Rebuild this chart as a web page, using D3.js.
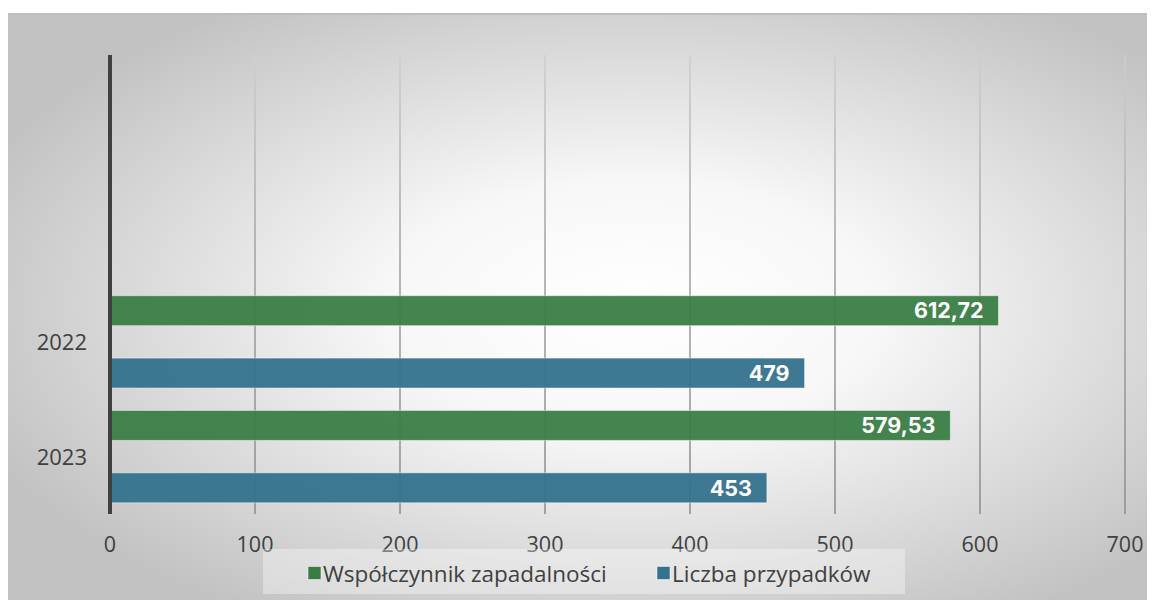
<!DOCTYPE html>
<html>
<head>
<meta charset="utf-8">
<script src="https://cdn.jsdelivr.net/npm/d3@7"></script>
<style>
  body { margin: 0; background: #fff; }
  svg { display: block; }
</style>
</head>
<body>
<div class="chart"></div>
<script>
var categories = ["2022", "2023"];
var emptySlots = ["", ""];          // Excel left two blank rows above the data
var seriesNames = ["Współczynnik zapadalności", "Liczba przypadków"];
var rateValues = [612.72, 579.53];
var caseValues = [479, 453];
var valueLabels = [["612,72", "479"], ["579,53", "453"]];
var xTicks = [0, 100, 200, 300, 400, 500, 600, 700];

var svgWidth = 1151, svgHeight = 603;
var colors = ["#3a7d44", "#34718d"];
var labelFont = "'Open Sans', Roboto, sans-serif";

var svg = d3.select(".chart").append("svg")
  .attr("width", svgWidth)
  .attr("height", svgHeight);

var defs = svg.append("defs");
var bg = defs.append("radialGradient").attr("id", "bg")
  .attr("cx", "55%").attr("cy", "50%").attr("r", "62%");
bg.append("stop").attr("offset", "0%").attr("stop-color", "#ffffff");
bg.append("stop").attr("offset", "35%").attr("stop-color", "#f7f7f7");
bg.append("stop").attr("offset", "100%").attr("stop-color", "#c2c2c2");

var gridGrad = defs.append("linearGradient").attr("id", "gridGrad")
  .attr("gradientUnits", "userSpaceOnUse")
  .attr("x1", 0).attr("y1", 55).attr("x2", 0).attr("y2", 514);
gridGrad.append("stop").attr("offset", "0%").attr("stop-color", "#cfcfcf");
gridGrad.append("stop").attr("offset", "40%").attr("stop-color", "#a8a8a8");
gridGrad.append("stop").attr("offset", "100%").attr("stop-color", "#909090");

// chart area with border
svg.append("rect")
  .attr("x", 8).attr("y", 14)
  .attr("width", 1139).attr("height", 586)
  .attr("fill", "url(#bg)");
svg.append("line")
  .attr("x1", 8).attr("x2", 1147).attr("y1", 14).attr("y2", 14)
  .attr("stroke", "#bdbdbd").attr("stroke-width", 2);

var plotTop = 55, plotBottom = 514;

// scales
var x = d3.scaleLinear()
  .domain([0, 700])
  .range([110, 1125]);

var y = d3.scaleBand()
  .domain(d3.range(emptySlots.length + categories.length))
  .range([plotTop, plotBottom]);

var ySeries = d3.scaleBand()
  .domain([0, 1])
  .range([0, y.bandwidth()])
  .paddingInner(0.52)
  .paddingOuter(0.18);

// gridlines (extend a little below as tick marks)
svg.append("g").selectAll("line")
  .data(xTicks.slice(1))
  .enter().append("line")
  .attr("x1", d => x(d)).attr("x2", d => x(d))
  .attr("y1", plotTop).attr("y2", plotBottom)
  .attr("stroke", "url(#gridGrad)")
  .attr("stroke-width", 1.6);

// bars
var rows = categories.map(function(c, i) {
  return { cat: c, idx: emptySlots.length + i, vals: [rateValues[i], caseValues[i]], labels: valueLabels[i] };
});

var barData = [];
rows.forEach(function(r) {
  r.vals.forEach(function(v, s) {
    barData.push({ idx: r.idx, s: s, v: v, label: r.labels[s] });
  });
});

svg.append("g").selectAll("rect")
  .data(barData)
  .enter().append("rect")
  .attr("x", x(0))
  .attr("y", d => y(d.idx) + ySeries(d.s))
  .attr("width", d => x(d.v) - x(0))
  .attr("height", ySeries.bandwidth())
  .attr("fill", d => colors[d.s])
  .attr("fill-opacity", 0.95)
  .attr("stroke", "rgba(255,255,255,0.45)")
  .attr("stroke-width", 1);

svg.append("g").selectAll("text")
  .data(barData)
  .enter().append("text")
  .attr("x", d => x(d.v) - 15)
  .attr("y", d => y(d.idx) + ySeries(d.s) + ySeries.bandwidth() / 2)
  .attr("dy", "0.36em")
  .attr("text-anchor", "end")
  .attr("font-family", "Inter, 'Liberation Sans', sans-serif")
  .attr("font-weight", "bold")
  .attr("font-size", "21.5px")
  .attr("fill", "#ffffff")
  .text(d => d.label);

// value axis labels
svg.append("g").selectAll("text")
  .data(xTicks)
  .enter().append("text")
  .attr("x", d => x(d))
  .attr("y", 544)
  .attr("dy", "0.36em")
  .attr("text-anchor", "middle")
  .attr("font-family", labelFont)
  .attr("font-size", "21.5px")
  .attr("fill", "#404040")
  .text(d => d);

// category axis line
svg.append("line")
  .attr("x1", x(0)).attr("x2", x(0))
  .attr("y1", plotTop).attr("y2", plotBottom)
  .attr("stroke", "#404040")
  .attr("stroke-width", 4);

svg.append("g").selectAll("text")
  .data(rows)
  .enter().append("text")
  .attr("x", x(0) - 23)
  .attr("y", d => y(d.idx) + y.bandwidth() / 2)
  .attr("dy", "0.36em")
  .attr("text-anchor", "end")
  .attr("font-family", labelFont)
  .attr("font-size", "22px")
  .attr("fill", "#404040")
  .text(d => d.cat);

// legend
svg.append("rect")
  .attr("x", 263).attr("y", 549)
  .attr("width", 642).attr("height", 45)
  .attr("fill", "#ffffff").attr("fill-opacity", 0.35);

var legendX = [308, 657];
var legend = svg.append("g").selectAll("g")
  .data(seriesNames)
  .enter().append("g")
  .attr("transform", (d, i) => `translate(${legendX[i]}, 573)`);

legend.append("rect")
  .attr("x", 0).attr("y", -6.5)
  .attr("width", 13).attr("height", 13)
  .attr("fill", (d, i) => colors[i])
  .attr("stroke", "rgba(255,255,255,0.5)");

legend.append("text")
  .attr("x", 15)
  .attr("y", 1)
  .attr("dy", "0.36em")
  .attr("font-family", labelFont)
  .attr("font-size", "22.5px")
  .attr("fill", "#404040")
  .text(d => d);
</script>
</body>
</html>
